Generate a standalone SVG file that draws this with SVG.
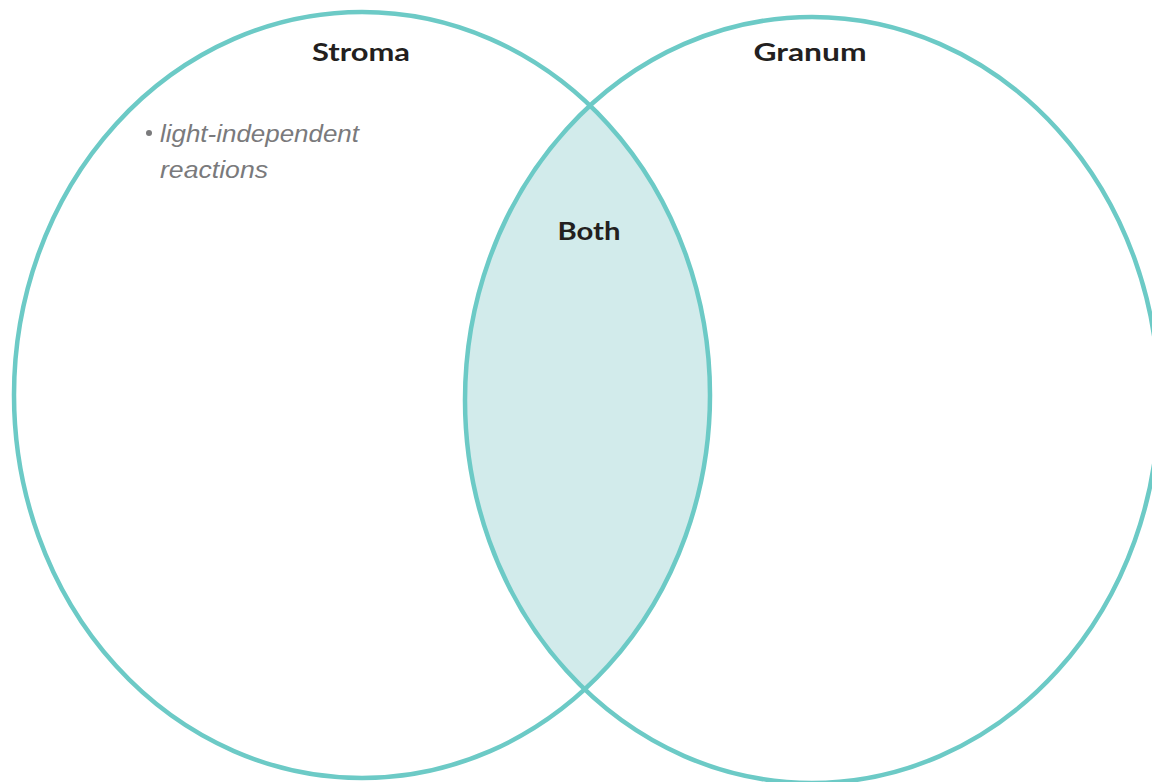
<svg xmlns="http://www.w3.org/2000/svg" width="1152" height="782" viewBox="0 0 1152 782">
<style>
.ring{fill:none;stroke:#6ccac6;stroke-width:4.5}
.hd{font-family:"Lato","Liberation Sans",sans-serif;font-weight:bold;font-size:25px;fill:#231f20;text-anchor:middle}
.note{font-family:"Liberation Sans",sans-serif;font-style:italic;font-size:23px;fill:#7a7a7c}
</style>
<defs>
<clipPath id="clipL"><ellipse cx="362" cy="395" rx="348" ry="383"/></clipPath>
</defs>
<rect width="1152" height="782" fill="#ffffff"/>
<g id="overlap">
<ellipse cx="812" cy="400" rx="347" ry="383" fill="#d2ebeb" clip-path="url(#clipL)"/>
</g>
<g id="stroma">
<ellipse class="ring" cx="362" cy="395" rx="348" ry="383"/>
<text class="hd" x="361" y="61" textLength="98" lengthAdjust="spacingAndGlyphs">Stroma</text>
<circle cx="149" cy="133" r="3" fill="#7a7a7c"/>
<text class="note" x="160" y="142" textLength="199" lengthAdjust="spacingAndGlyphs">light-independent</text>
<text class="note" x="160" y="178" textLength="108" lengthAdjust="spacingAndGlyphs">reactions</text>
</g>
<g id="granum">
<ellipse class="ring" cx="812" cy="400" rx="347" ry="383"/>
<text class="hd" x="810" y="61" textLength="113" lengthAdjust="spacingAndGlyphs">Granum</text>
</g>
<g id="both">
<text class="hd" x="589" y="240" textLength="63" lengthAdjust="spacingAndGlyphs">Both</text>
</g>
<g id="connectors"></g>
</svg>
